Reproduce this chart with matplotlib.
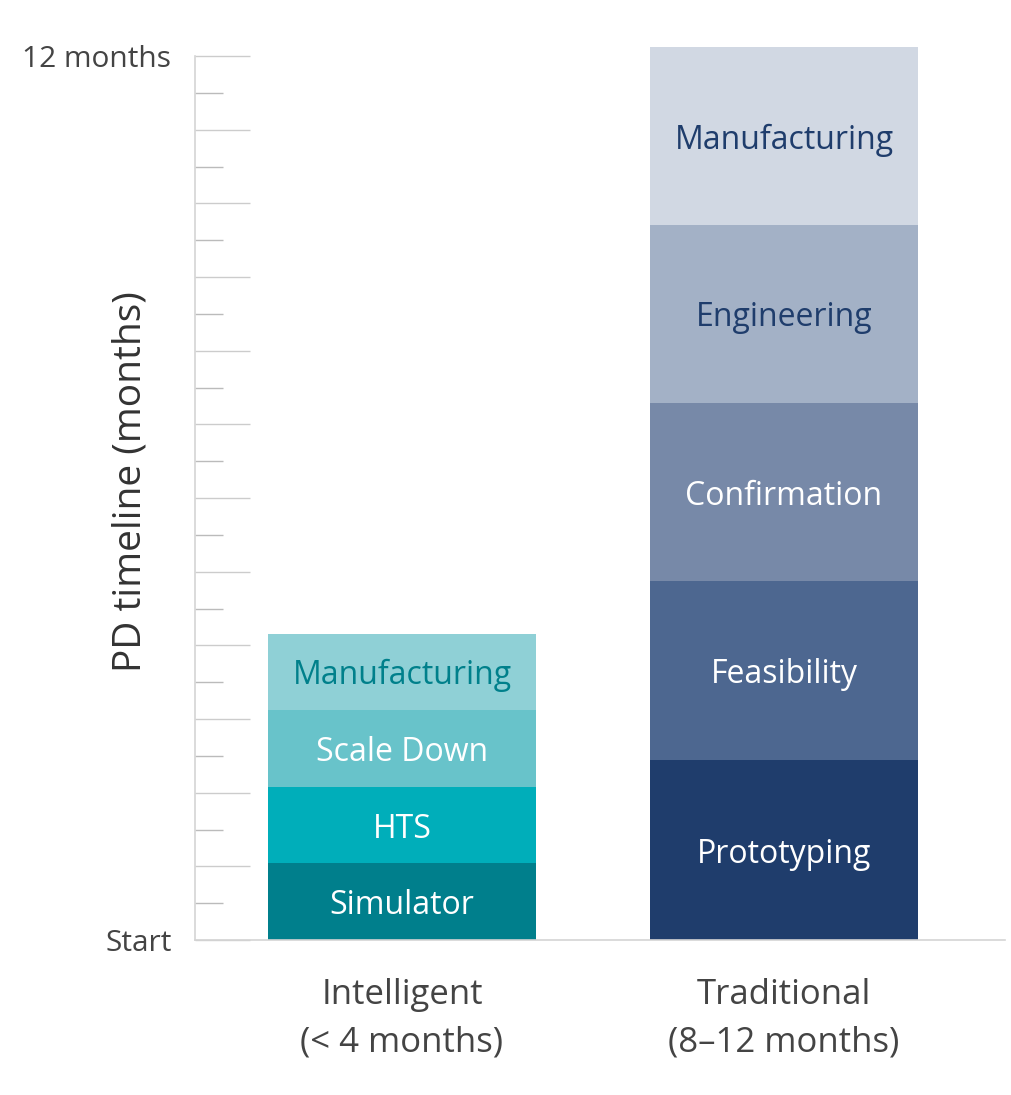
import matplotlib
matplotlib.use("Agg")
import matplotlib.pyplot as plt
from matplotlib.transforms import blended_transform_factory
from matplotlib.ticker import MultipleLocator

plt.rcParams['font.family'] = ['Open Sans', 'DejaVu Sans']

categories = ["Intelligent\n(< 4 months)", "Traditional\n(8–12 months)"]
intelligent_stages = ["Simulator", "HTS", "Scale Down", "Manufacturing"]
intelligent_months = [1.04, 1.04, 1.04, 1.04]
intelligent_colors = ["#007f8c", "#00aeba", "#68c3ca", "#8fd0d6"]
intelligent_text = ["white", "white", "white", "#00808b"]

traditional_stages = ["Prototyping", "Feasibility", "Confirmation", "Engineering", "Manufacturing"]
traditional_months = [2.44, 2.43, 2.42, 2.42, 2.41]
traditional_colors = ["#1f3d6c", "#4d6790", "#7789a8", "#a3b1c6", "#d1d8e3"]
traditional_text = ["white", "white", "white", "#1f3d6c", "#1f3d6c"]

ytick_vals = list(range(0, 13))
ytick_labels = ["Start"] + [""] * 11 + ["12 months"]

W, H = 1012, 1095
fig = plt.figure(figsize=(W / 100, H / 100), dpi=100)
px_per_month = (940 - 56) / 12
ytop = 12 + (56 - 38) / px_per_month
ax = fig.add_axes([195 / W, (H - 940) / H, (1005 - 195) / W, (940 - 38) / H])

unit = 784 - 402
ax.set_xlim(-(402 - 195) / unit, 1 + (1005 - 784) / unit)
ax.set_ylim(0, ytop)
bw = 268 / unit

groups = [
    (0, intelligent_stages, intelligent_months, intelligent_colors, intelligent_text),
    (1, traditional_stages, traditional_months, traditional_colors, traditional_text),
]
for xpos, stages, vals, cols, tcols in groups:
    bottom = 0
    for s, v, c, tc in zip(stages, vals, cols, tcols):
        ax.bar(xpos, v, bottom=bottom, width=bw, color=c, edgecolor='none', zorder=2)
        ax.text(xpos, bottom + v / 2, s, ha='center', va='center_baseline', color=tc,
                fontsize=23, zorder=3)
        bottom += v

for sp in ['top', 'right']:
    ax.spines[sp].set_visible(False)
ax.spines['left'].set_bounds(0, 12)
ax.spines['left'].set_color('#d4d4d4')
ax.spines['bottom'].set_color('#d4d4d4')
ax.spines['left'].set_linewidth(1.2)
ax.spines['bottom'].set_linewidth(1.2)

ax.set_yticks(ytick_vals)
ax.set_yticklabels(ytick_labels)
ax.yaxis.set_minor_locator(MultipleLocator(0.5))
ax.tick_params(axis='y', which='major', direction='in', length=55 * 0.72,
               width=1.0, color='#cccccc', pad=17, labelsize=21.5, labelcolor='#444444')
ax.tick_params(axis='y', which='minor', direction='in', length=28 * 0.72,
               width=1.0, color='#bbbbbb')
ax.set_xticks([])

fig.text(130 / W, 1 - 482 / H, "PD timeline (months)", rotation=90,
         ha='center', va='center', fontsize=28, color='#333333')

trans = blended_transform_factory(ax.transData, fig.transFigure)
for i, lab in enumerate(categories):
    ax.text(i, 1 - 1019 / H, lab, transform=trans, ha='center', va='center',
            fontsize=25, color='#444444', linespacing=1.52)

fig.savefig("out.png", dpi=100)
